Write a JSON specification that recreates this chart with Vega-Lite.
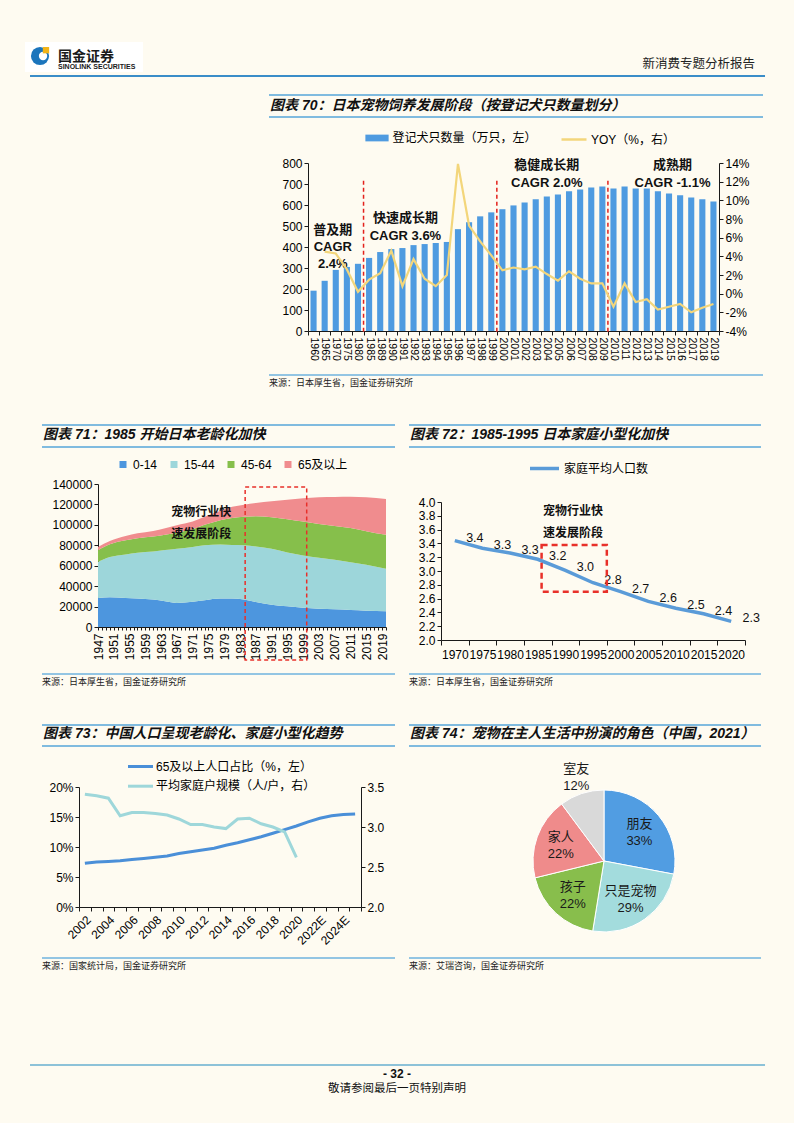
{
"$schema": "https://vega.github.io/schema/vega-lite/v6.json",
"background": "#FEFBF1",
"padding": {"left": -6, "top": 0, "right": 0, "bottom": 0},
"bounds": "flush",
"spacing": 0,
"resolve": {"scale": {"color": "independent", "fill": "independent", "stroke": "independent", "theta": "independent"}, "legend": {"color": "independent", "fill": "independent", "stroke": "independent"}},
"config": {
  "view": {"stroke": null},
  "concat": {"spacing": 0},
  "axis": {"grid": false, "labelFont": "Liberation Sans, Noto Sans CJK SC", "labelFontSize": 12, "labelColor": "#000000", "domainColor": "#1a1a1a", "tickColor": "#1a1a1a", "domainWidth": 1, "tickWidth": 1},
  "legend": {"labelFont": "Liberation Sans, Noto Sans CJK SC", "labelFontSize": 12, "labelColor": "#000000", "padding": 0},
  "text": {"font": "Liberation Sans, Noto Sans CJK SC"}
},
"vconcat": [
  {"width": 794, "height": 76, "data": {"values": [{}]}, "layer": [
    {"mark": {"type": "rect", "color": "#FFFFFF"}, "encoding": {"x": {"datum": 0.0315, "type": "quantitative", "scale": {"domain": [0, 1]}, "axis": null}, "x2": {"datum": 0.1801}, "y": {"datum": 0.447, "type": "quantitative", "scale": {"domain": [0, 1]}, "axis": null}, "y2": {"datum": 0.053}}},
    {"mark": {"type": "point", "filled": true, "color": "#1B75BC", "opacity": 1, "size": 330}, "encoding": {"x": {"datum": 0.0504, "type": "quantitative", "scale": {"domain": [0, 1]}, "axis": null}, "y": {"datum": 0.263, "type": "quantitative", "scale": {"domain": [0, 1]}, "axis": null}}},
    {"mark": {"type": "point", "filled": true, "color": "#FFFFFF", "opacity": 1, "size": 70}, "encoding": {"x": {"datum": 0.0542, "type": "quantitative", "scale": {"domain": [0, 1]}, "axis": null}, "y": {"datum": 0.263, "type": "quantitative", "scale": {"domain": [0, 1]}, "axis": null}}},
    {"mark": {"type": "square", "color": "#F2B418", "opacity": 1, "size": 40}, "encoding": {"x": {"datum": 0.0579, "type": "quantitative", "scale": {"domain": [0, 1]}, "axis": null}, "y": {"datum": 0.34, "type": "quantitative", "scale": {"domain": [0, 1]}, "axis": null}}},
    {"mark": {"type": "text", "align": "left", "baseline": "middle", "fontSize": 14, "fontWeight": "bold", "font": "Noto Sans CJK SC", "color": "#1a1a1a"}, "encoding": {"x": {"datum": 0.073, "type": "quantitative", "scale": {"domain": [0, 1]}, "axis": null}, "y": {"datum": 0.254, "type": "quantitative", "scale": {"domain": [0, 1]}, "axis": null}, "text": {"value": "国金证券"}}},
    {"mark": {"type": "text", "align": "left", "baseline": "middle", "fontSize": 7, "fontWeight": "bold", "font": "Liberation Sans", "color": "#1a1a1a"}, "encoding": {"x": {"datum": 0.073, "type": "quantitative", "scale": {"domain": [0, 1]}, "axis": null}, "y": {"datum": 0.114, "type": "quantitative", "scale": {"domain": [0, 1]}, "axis": null}, "text": {"value": "SINOLINK SECURITIES"}}},
    {"mark": {"type": "text", "align": "right", "baseline": "middle", "fontSize": 12.5, "font": "Noto Sans CJK SC", "color": "#222222"}, "encoding": {"x": {"datum": 0.9509, "type": "quantitative", "scale": {"domain": [0, 1]}, "axis": null}, "y": {"datum": 0.158, "type": "quantitative", "scale": {"domain": [0, 1]}, "axis": null}, "text": {"value": "新消费专题分析报告"}}},
    {"mark": {"type": "rule", "color": "#3A8DC8", "strokeWidth": 2}, "encoding": {"x": {"datum": 0.0378, "type": "quantitative", "scale": {"domain": [0, 1]}, "axis": null}, "x2": {"datum": 0.9635}, "y": {"datum": 0, "type": "quantitative", "scale": {"domain": [0, 1]}, "axis": null}}}
  ]},
  {"width": 1, "height": 19, "data": {"values": []}, "mark": "point"},
  {"width": 794, "height": 22, "data": {"values": [{}]}, "layer": [
    {"mark": {"type": "rule", "color": "#56A6D9", "strokeWidth": 1.5}, "encoding": {"x": {"datum": 0.3388, "type": "quantitative", "scale": {"domain": [0, 1]}, "axis": null}, "x2": {"datum": 0.961}, "y": {"datum": 1, "type": "quantitative", "scale": {"domain": [0, 1]}, "axis": null}}},
    {"mark": {"type": "rule", "color": "#56A6D9", "strokeWidth": 1.5}, "encoding": {"x": {"datum": 0.3388, "type": "quantitative", "scale": {"domain": [0, 1]}, "axis": null}, "x2": {"datum": 0.961}, "y": {"datum": 0, "type": "quantitative", "scale": {"domain": [0, 1]}, "axis": null}}},
    {"mark": {"type": "text", "align": "left", "baseline": "middle", "dx": 1, "fontSize": 14, "fontWeight": "bold", "fontStyle": "italic", "color": "#111111"}, "encoding": {"x": {"datum": 0.3388, "type": "quantitative", "scale": {"domain": [0, 1]}, "axis": null}, "y": {"datum": 0.5, "type": "quantitative", "scale": {"domain": [0, 1]}, "axis": null}, "text": {"value": "图表 70：日本宠物饲养发展阶段（按登记犬只数量划分）"}}}
  ]},
  {"width": 1, "height": 46, "data": {"values": []}, "mark": "point"},
  {"width": 794, "height": 168,
   "data": {"values": [
    {"year": "1960", "dogs": 192, "yoy": null},
    {"year": "1965", "dogs": 239, "yoy": 4.5},
    {"year": "1970", "dogs": 291, "yoy": 4.3},
    {"year": "1975", "dogs": 305, "yoy": 2.6},
    {"year": "1980", "dogs": 320, "yoy": 0.2},
    {"year": "1985", "dogs": 348, "yoy": 1.5},
    {"year": "1989", "dogs": 376, "yoy": 2.2},
    {"year": "1990", "dogs": 390, "yoy": 4.6},
    {"year": "1991", "dogs": 395, "yoy": 0.8},
    {"year": "1992", "dogs": 409, "yoy": 3.7},
    {"year": "1993", "dogs": 414, "yoy": 1.6},
    {"year": "1994", "dogs": 419, "yoy": 0.8},
    {"year": "1995", "dogs": 424, "yoy": 2.0},
    {"year": "1996", "dogs": 485, "yoy": 13.9},
    {"year": "1997", "dogs": 518, "yoy": 7.3},
    {"year": "1998", "dogs": 546, "yoy": 5.6},
    {"year": "1999", "dogs": 565, "yoy": 4.1},
    {"year": "2000", "dogs": 580, "yoy": 2.5},
    {"year": "2001", "dogs": 598, "yoy": 2.8},
    {"year": "2002", "dogs": 612, "yoy": 2.6},
    {"year": "2003", "dogs": 627, "yoy": 2.9},
    {"year": "2004", "dogs": 641, "yoy": 2.1},
    {"year": "2005", "dogs": 650, "yoy": 1.4},
    {"year": "2006", "dogs": 665, "yoy": 2.4},
    {"year": "2007", "dogs": 674, "yoy": 1.6},
    {"year": "2008", "dogs": 683, "yoy": 1.1},
    {"year": "2009", "dogs": 688, "yoy": 1.1},
    {"year": "2010", "dogs": 679, "yoy": -1.4},
    {"year": "2011", "dogs": 688, "yoy": 1.1},
    {"year": "2012", "dogs": 679, "yoy": -0.9},
    {"year": "2013", "dogs": 679, "yoy": -0.6},
    {"year": "2014", "dogs": 665, "yoy": -1.7},
    {"year": "2015", "dogs": 655, "yoy": -1.4},
    {"year": "2016", "dogs": 646, "yoy": -1.1},
    {"year": "2017", "dogs": 636, "yoy": -2.0},
    {"year": "2018", "dogs": 627, "yoy": -1.5},
    {"year": "2019", "dogs": 617, "yoy": -1.1}
   ]},
   "encoding": {"x": {"field": "year", "type": "ordinal", "scale": {"paddingInner": 0, "paddingOuter": 0, "range": [308, 719]}, "axis": {"labelAngle": 90, "labelFontSize": 10.5, "tickBand": "extent", "tickSize": 4, "title": null, "labelPadding": 2, "labelOverlap": false}}},
   "layer": [
    {"layer": [
      {"mark": {"type": "bar", "width": {"band": 0.55}}, "encoding": {
        "y": {"field": "dogs", "type": "quantitative", "scale": {"domain": [0, 800], "nice": false}, "axis": {"values": [0, 100, 200, 300, 400, 500, 600, 700, 800], "title": null, "tickSize": 4, "offset": -308}},
        "fill": {"datum": "登记犬只数量（万只，左）", "type": "nominal", "scale": {"range": ["#4F9BE0"]}, "legend": {"title": null, "orient": "none", "legendX": 369.5, "legendY": -32.5, "symbolType": "M-1.55,-0.45H1.55V0.45H-1.55Z", "symbolSize": 225, "symbolStrokeWidth": 0, "labelOffset": 8, "labelFontSize": 12}}}},
      {"data": {"values": [{"year": "1985"}, {"year": "2000"}, {"year": "2010"}]}, "mark": {"type": "rule", "color": "#E3211C", "strokeDash": [4, 3], "strokeWidth": 1.5}, "encoding": {
        "x": {"field": "year", "type": "ordinal", "bandPosition": 0, "scale": {"paddingInner": 0, "paddingOuter": 0, "range": [308, 719]}, "axis": {"labelAngle": 90, "labelFontSize": 10.5, "tickBand": "extent", "tickSize": 4, "title": null, "labelPadding": 2, "labelOverlap": false}},
        "y": {"datum": 716, "type": "quantitative", "scale": {"domain": [0, 800], "nice": false}, "axis": {"values": [0, 100, 200, 300, 400, 500, 600, 700, 800], "title": null, "tickSize": 4, "offset": -308}}, "y2": {"datum": -16}}},
      {"data": {"values": [{"year": "1970"}]}, "mark": {"type": "text", "fontSize": 13, "fontWeight": "bold", "color": "#111111", "lineBreak": "\n", "lineHeight": 17, "dx": -3, "baseline": "middle"}, "encoding": {"y": {"datum": 481, "type": "quantitative", "scale": {"domain": [0, 800], "nice": false}, "axis": {"values": [0, 100, 200, 300, 400, 500, 600, 700, 800], "title": null, "tickSize": 4, "offset": -308}}, "text": {"value": "普及期\nCAGR\n2.4%"}}},
      {"data": {"values": [{"year": "1991"}]}, "mark": {"type": "text", "fontSize": 13, "fontWeight": "bold", "color": "#111111", "lineBreak": "\n", "lineHeight": 18, "dx": 3, "baseline": "middle"}, "encoding": {"y": {"datum": 539, "type": "quantitative", "scale": {"domain": [0, 800], "nice": false}, "axis": {"values": [0, 100, 200, 300, 400, 500, 600, 700, 800], "title": null, "tickSize": 4, "offset": -308}}, "text": {"value": "快速成长期\nCAGR  3.6%"}}},
      {"data": {"values": [{"year": "2004"}]}, "mark": {"type": "text", "fontSize": 13, "fontWeight": "bold", "color": "#111111", "lineBreak": "\n", "lineHeight": 18, "baseline": "middle"}, "encoding": {"y": {"datum": 790, "type": "quantitative", "scale": {"domain": [0, 800], "nice": false}, "axis": {"values": [0, 100, 200, 300, 400, 500, 600, 700, 800], "title": null, "tickSize": 4, "offset": -308}}, "text": {"value": "稳健成长期\nCAGR  2.0%"}}},
      {"data": {"values": [{"year": "2015"}]}, "mark": {"type": "text", "fontSize": 13, "fontWeight": "bold", "color": "#111111", "lineBreak": "\n", "lineHeight": 18, "dx": 3.5, "baseline": "middle"}, "encoding": {"y": {"datum": 790, "type": "quantitative", "scale": {"domain": [0, 800], "nice": false}, "axis": {"values": [0, 100, 200, 300, 400, 500, 600, 700, 800], "title": null, "tickSize": 4, "offset": -308}}, "text": {"value": "成熟期\nCAGR  -1.1%"}}}
    ]},
    {"mark": {"type": "line", "strokeWidth": 2.2}, "encoding": {
      "y": {"field": "yoy", "type": "quantitative", "scale": {"domain": [-4, 14], "nice": false, "zero": false}, "axis": {"orient": "right", "offset": -75, "values": [-4, -2, 0, 2, 4, 6, 8, 10, 12, 14], "labelExpr": "datum.value + '%'", "title": null, "tickSize": 4}},
      "stroke": {"datum": "YOY（%，右）", "type": "nominal", "scale": {"range": ["#F3D67B"]}, "legend": {"title": null, "orient": "none", "legendX": 560, "legendY": -37.5, "symbolType": "stroke", "symbolSize": 625, "symbolStrokeWidth": 2.5, "labelOffset": 3, "labelFontSize": 12}}}}
   ],
   "resolve": {"scale": {"y": "independent"}}
  },
  {"width": 1, "height": 44, "data": {"values": []}, "mark": "point"},
  {"width": 794, "height": 15, "data": {"values": [{}]}, "layer": [
    {"mark": {"type": "rule", "color": "#6FB3DE", "strokeWidth": 1.5}, "encoding": {"x": {"datum": 0.3388, "type": "quantitative", "scale": {"domain": [0, 1]}, "axis": null}, "x2": {"datum": 0.961}, "y": {"datum": 1, "type": "quantitative", "scale": {"domain": [0, 1]}, "axis": null}}},
    {"mark": {"type": "text", "align": "left", "baseline": "middle", "fontSize": 9, "font": "Noto Sans CJK SC", "color": "#222222"}, "encoding": {"x": {"datum": 0.3388, "type": "quantitative", "scale": {"domain": [0, 1]}, "axis": null}, "y": {"datum": 0.45, "type": "quantitative", "scale": {"domain": [0, 1]}, "axis": null}, "text": {"value": "来源：日本厚生省，国金证券研究所"}}}
  ]},
  {"width": 1, "height": 35, "data": {"values": []}, "mark": "point"},
  {"width": 794, "height": 22, "data": {"values": [{}]}, "layer": [
    {"mark": {"type": "rule", "color": "#56A6D9", "strokeWidth": 1.5}, "encoding": {"x": {"datum": 0.0529, "type": "quantitative", "scale": {"domain": [0, 1]}, "axis": null}, "x2": {"datum": 0.4975}, "y": {"datum": 1, "type": "quantitative", "scale": {"domain": [0, 1]}, "axis": null}}},
    {"mark": {"type": "rule", "color": "#56A6D9", "strokeWidth": 1.5}, "encoding": {"x": {"datum": 0.0529, "type": "quantitative", "scale": {"domain": [0, 1]}, "axis": null}, "x2": {"datum": 0.4975}, "y": {"datum": 0, "type": "quantitative", "scale": {"domain": [0, 1]}, "axis": null}}},
    {"mark": {"type": "rule", "color": "#56A6D9", "strokeWidth": 1.5}, "encoding": {"x": {"datum": 0.5151, "type": "quantitative", "scale": {"domain": [0, 1]}, "axis": null}, "x2": {"datum": 0.9584}, "y": {"datum": 1, "type": "quantitative", "scale": {"domain": [0, 1]}, "axis": null}}},
    {"mark": {"type": "rule", "color": "#56A6D9", "strokeWidth": 1.5}, "encoding": {"x": {"datum": 0.5151, "type": "quantitative", "scale": {"domain": [0, 1]}, "axis": null}, "x2": {"datum": 0.9584}, "y": {"datum": 0, "type": "quantitative", "scale": {"domain": [0, 1]}, "axis": null}}},
    {"mark": {"type": "text", "align": "left", "baseline": "middle", "dx": 1, "fontSize": 14, "fontWeight": "bold", "fontStyle": "italic", "color": "#111111"}, "encoding": {"x": {"datum": 0.0529, "type": "quantitative", "scale": {"domain": [0, 1]}, "axis": null}, "y": {"datum": 0.56, "type": "quantitative", "scale": {"domain": [0, 1]}, "axis": null}, "text": {"value": "图表 71：1985 开始日本老龄化加快"}}},
    {"mark": {"type": "text", "align": "left", "baseline": "middle", "dx": 1, "fontSize": 14, "fontWeight": "bold", "fontStyle": "italic", "color": "#111111"}, "encoding": {"x": {"datum": 0.5151, "type": "quantitative", "scale": {"domain": [0, 1]}, "axis": null}, "y": {"datum": 0.56, "type": "quantitative", "scale": {"domain": [0, 1]}, "axis": null}, "text": {"value": "图表 72：1985-1995 日本家庭小型化加快"}}}
  ]},
  {"width": 1, "height": 37, "data": {"values": []}, "mark": "point"},
  {"width": 794, "height": 156,
   "layer": [
    {"layer": [
      {"data": {"values": [
        {"year": 1947, "group": "0-14", "pop": 28500}, {"year": 1947, "group": "15-44", "pop": 35100}, {"year": 1947, "group": "45-64", "pop": 11500}, {"year": 1947, "group": "65及以上", "pop": 3300},
        {"year": 1950, "group": "0-14", "pop": 29200}, {"year": 1950, "group": "15-44", "pop": 39300}, {"year": 1950, "group": "45-64", "pop": 12500}, {"year": 1950, "group": "65及以上", "pop": 3300},
        {"year": 1954, "group": "0-14", "pop": 28500}, {"year": 1954, "group": "15-44", "pop": 42600}, {"year": 1954, "group": "45-64", "pop": 13800}, {"year": 1954, "group": "65及以上", "pop": 4300},
        {"year": 1957, "group": "0-14", "pop": 27900}, {"year": 1957, "group": "15-44", "pop": 44900}, {"year": 1957, "group": "45-64", "pop": 14100}, {"year": 1957, "group": "65及以上", "pop": 4900},
        {"year": 1961, "group": "0-14", "pop": 26900}, {"year": 1961, "group": "15-44", "pop": 46900}, {"year": 1961, "group": "45-64", "pop": 14700}, {"year": 1961, "group": "65及以上", "pop": 5600},
        {"year": 1964, "group": "0-14", "pop": 25200}, {"year": 1964, "group": "15-44", "pop": 50200}, {"year": 1964, "group": "45-64", "pop": 14800}, {"year": 1964, "group": "65及以上", "pop": 6500},
        {"year": 1967, "group": "0-14", "pop": 23600}, {"year": 1967, "group": "15-44", "pop": 53100}, {"year": 1967, "group": "45-64", "pop": 15800}, {"year": 1967, "group": "65及以上", "pop": 7200},
        {"year": 1971, "group": "0-14", "pop": 24600}, {"year": 1971, "group": "15-44", "pop": 53800}, {"year": 1971, "group": "45-64", "pop": 17300}, {"year": 1971, "group": "65及以上", "pop": 7600},
        {"year": 1974, "group": "0-14", "pop": 26200}, {"year": 1974, "group": "15-44", "pop": 53800}, {"year": 1974, "group": "45-64", "pop": 20000}, {"year": 1974, "group": "65及以上", "pop": 7900},
        {"year": 1978, "group": "0-14", "pop": 27900}, {"year": 1978, "group": "15-44", "pop": 52800}, {"year": 1978, "group": "45-64", "pop": 23900}, {"year": 1978, "group": "65及以上", "pop": 9200},
        {"year": 1981, "group": "0-14", "pop": 27900}, {"year": 1981, "group": "15-44", "pop": 52400}, {"year": 1981, "group": "45-64", "pop": 26300}, {"year": 1981, "group": "65及以上", "pop": 11100},
        {"year": 1984, "group": "0-14", "pop": 26900}, {"year": 1984, "group": "15-44", "pop": 53100}, {"year": 1984, "group": "45-64", "pop": 27900}, {"year": 1984, "group": "65及以上", "pop": 11800},
        {"year": 1987, "group": "0-14", "pop": 24400}, {"year": 1987, "group": "15-44", "pop": 54400}, {"year": 1987, "group": "45-64", "pop": 29600}, {"year": 1987, "group": "65及以上", "pop": 13000},
        {"year": 1991, "group": "0-14", "pop": 21800}, {"year": 1991, "group": "15-44", "pop": 54700}, {"year": 1991, "group": "45-64", "pop": 30900}, {"year": 1991, "group": "65及以上", "pop": 15700},
        {"year": 1995, "group": "0-14", "pop": 20200}, {"year": 1995, "group": "15-44", "pop": 52700}, {"year": 1995, "group": "45-64", "pop": 32600}, {"year": 1995, "group": "65及以上", "pop": 19200},
        {"year": 1999, "group": "0-14", "pop": 18900}, {"year": 1999, "group": "15-44", "pop": 51100}, {"year": 1999, "group": "45-64", "pop": 33200}, {"year": 1999, "group": "65及以上", "pop": 22800},
        {"year": 2003, "group": "0-14", "pop": 17900}, {"year": 2003, "group": "15-44", "pop": 49800}, {"year": 2003, "group": "45-64", "pop": 33200}, {"year": 2003, "group": "65及以上", "pop": 26100},
        {"year": 2007, "group": "0-14", "pop": 17300}, {"year": 2007, "group": "15-44", "pop": 48500}, {"year": 2007, "group": "45-64", "pop": 33200}, {"year": 2007, "group": "65及以上", "pop": 28300},
        {"year": 2011, "group": "0-14", "pop": 16600}, {"year": 2011, "group": "15-44", "pop": 46900}, {"year": 2011, "group": "45-64", "pop": 33500}, {"year": 2011, "group": "65及以上", "pop": 30600},
        {"year": 2015, "group": "0-14", "pop": 16000}, {"year": 2015, "group": "15-44", "pop": 44900}, {"year": 2015, "group": "45-64", "pop": 32900}, {"year": 2015, "group": "65及以上", "pop": 33200},
        {"year": 2020, "group": "0-14", "pop": 15300}, {"year": 2020, "group": "15-44", "pop": 41700}, {"year": 2020, "group": "45-64", "pop": 33200}, {"year": 2020, "group": "65及以上", "pop": 35200}
       ]},
       "mark": {"type": "area", "interpolate": "monotone", "opacity": 1},
       "encoding": {
        "x": {"field": "year", "type": "quantitative", "scale": {"domain": [1947, 2020], "nice": false, "zero": false, "range": [98, 386]}, "axis": {"orient": "bottom", "offset": -13, "values": [1947,1948,1949,1950,1951,1952,1953,1954,1955,1956,1957,1958,1959,1960,1961,1962,1963,1964,1965,1966,1967,1968,1969,1970,1971,1972,1973,1974,1975,1976,1977,1978,1979,1980,1981,1982,1983,1984,1985,1986,1987,1988,1989,1990,1991,1992,1993,1994,1995,1996,1997,1998,1999,2000,2001,2002,2003,2004,2005,2006,2007,2008,2009,2010,2011,2012,2013,2014,2015,2016,2017,2018,2019,2020], "labelExpr": "(datum.value - 1947) % 4 === 0 ? '' + datum.value : ''", "labelAngle": -90, "tickSize": 3, "labelOverlap": false, "labelPadding": 3, "title": null}},
        "y": {"field": "pop", "type": "quantitative", "stack": "zero", "scale": {"domain": [0, 140000], "nice": false, "range": [143, 0]}, "axis": {"orient": "left", "offset": -98, "values": [0, 20000, 40000, 60000, 80000, 100000, 120000, 140000], "format": "d", "tickSize": 4, "title": null}},
        "color": {"field": "group", "type": "nominal", "scale": {"domain": ["0-14", "15-44", "45-64", "65及以上"], "range": ["#4D96DE", "#9DD6DA", "#86BF4B", "#F08C8E"]}, "legend": {"title": null, "orient": "none", "direction": "horizontal", "legendX": 117, "legendY": -25.5, "symbolType": "square", "symbolSize": 49, "symbolStrokeWidth": 0, "columnPadding": 10, "labelOffset": 4}},
        "order": {"field": "group", "sort": "ascending"}
       }},
      {"data": {"values": [{}]}, "mark": {"type": "rect", "filled": false, "stroke": "#E8302A", "strokeDash": [4, 3], "strokeWidth": 1.5}, "encoding": {
        "x": {"datum": 1984.3, "type": "quantitative", "scale": {"domain": [1947, 2020], "nice": false, "zero": false, "range": [98, 386]}, "axis": {"orient": "bottom", "offset": -13, "values": [1947,1948,1949,1950,1951,1952,1953,1954,1955,1956,1957,1958,1959,1960,1961,1962,1963,1964,1965,1966,1967,1968,1969,1970,1971,1972,1973,1974,1975,1976,1977,1978,1979,1980,1981,1982,1983,1984,1985,1986,1987,1988,1989,1990,1991,1992,1993,1994,1995,1996,1997,1998,1999,2000,2001,2002,2003,2004,2005,2006,2007,2008,2009,2010,2011,2012,2013,2014,2015,2016,2017,2018,2019,2020], "labelExpr": "(datum.value - 1947) % 4 === 0 ? '' + datum.value : ''", "labelAngle": -90, "tickSize": 3, "labelOverlap": false, "labelPadding": 3, "title": null}}, "x2": {"datum": 1999.9},
        "y": {"datum": 137000, "type": "quantitative", "scale": {"domain": [0, 140000], "nice": false, "range": [143, 0]}, "axis": {"orient": "left", "offset": -98, "values": [0, 20000, 40000, 60000, 80000, 100000, 120000, 140000], "format": "d", "tickSize": 4, "title": null}}, "y2": {"datum": -32300}}},
      {"data": {"values": [{}]}, "mark": {"type": "text", "fontSize": 12, "fontWeight": "bold", "color": "#111111", "lineBreak": "\n", "lineHeight": 22, "baseline": "middle"}, "encoding": {
        "x": {"datum": 1973.2, "type": "quantitative", "scale": {"domain": [1947, 2020], "nice": false, "zero": false, "range": [98, 386]}, "axis": {"orient": "bottom", "offset": -13, "values": [1947,1948,1949,1950,1951,1952,1953,1954,1955,1956,1957,1958,1959,1960,1961,1962,1963,1964,1965,1966,1967,1968,1969,1970,1971,1972,1973,1974,1975,1976,1977,1978,1979,1980,1981,1982,1983,1984,1985,1986,1987,1988,1989,1990,1991,1992,1993,1994,1995,1996,1997,1998,1999,2000,2001,2002,2003,2004,2005,2006,2007,2008,2009,2010,2011,2012,2013,2014,2015,2016,2017,2018,2019,2020], "labelExpr": "(datum.value - 1947) % 4 === 0 ? '' + datum.value : ''", "labelAngle": -90, "tickSize": 3, "labelOverlap": false, "labelPadding": 3, "title": null}},
        "y": {"datum": 112900, "type": "quantitative", "scale": {"domain": [0, 140000], "nice": false, "range": [143, 0]}, "axis": {"orient": "left", "offset": -98, "values": [0, 20000, 40000, 60000, 80000, 100000, 120000, 140000], "format": "d", "tickSize": 4, "title": null}}, "text": {"value": "宠物行业快\n速发展阶段"}}}
    ]},
    {"layer": [
      {"data": {"values": [
        {"year": "1970", "hh": 3.44}, {"year": "1975", "hh": 3.33}, {"year": "1980", "hh": 3.26}, {"year": "1985", "hh": 3.17}, {"year": "1990", "hh": 3.01}, {"year": "1995", "hh": 2.83}, {"year": "2000", "hh": 2.7}, {"year": "2005", "hh": 2.56}, {"year": "2010", "hh": 2.46}, {"year": "2015", "hh": 2.38}, {"year": "2020", "hh": 2.27}
       ]},
       "encoding": {
        "x": {"field": "year", "type": "ordinal", "scale": {"type": "band", "paddingInner": 0, "paddingOuter": 0, "range": [441, 745]}, "axis": {"orient": "bottom", "labelAngle": 0, "labelFontSize": 12, "tickBand": "extent", "tickSize": 5, "labelOverlap": false, "labelPadding": 4, "title": null}},
        "y": {"field": "hh", "type": "quantitative", "scale": {"domain": [2, 4], "nice": false, "zero": false, "range": [156, 18]}, "axis": {"orient": "left", "offset": -441, "values": [2, 2.2, 2.4, 2.6, 2.8, 3, 3.2, 3.4, 3.6, 3.8, 4], "format": ".1f", "tickSize": 4, "title": null}}
       },
       "layer": [
        {"mark": {"type": "line", "strokeWidth": 3.5}, "encoding": {"stroke": {"datum": "家庭平均人口数", "type": "nominal", "scale": {"range": ["#5A9BD8"]}, "legend": {"title": null, "orient": "none", "legendX": 528, "legendY": -32, "symbolType": "stroke", "symbolSize": 841, "symbolStrokeWidth": 3.5, "labelOffset": 3}}}},
        {"mark": {"type": "text", "dx": 20, "dy": -3, "fontSize": 12.5, "color": "#111111"}, "encoding": {"text": {"field": "hh", "type": "quantitative", "format": ".1f"}}}
       ]},
      {"data": {"values": [{}]},
       "layer": [
        {"mark": {"type": "rect", "filled": false, "stroke": "#E8302A", "strokeDash": [6, 4], "strokeWidth": 2.5}, "encoding": {
          "x": {"datum": 1985.7, "type": "quantitative", "scale": {"domain": [1967.5, 2022.5], "nice": false, "zero": false, "range": [441, 745]}, "axis": null}, "x2": {"datum": 1997.5},
          "y": {"datum": 3.377, "type": "quantitative", "scale": {"domain": [2, 4], "nice": false, "zero": false, "range": [156, 18]}, "axis": {"orient": "left", "offset": -441, "values": [2, 2.2, 2.4, 2.6, 2.8, 3, 3.2, 3.4, 3.6, 3.8, 4], "format": ".1f", "tickSize": 4, "title": null}}, "y2": {"datum": 2.7}}},
        {"mark": {"type": "text", "fontSize": 12, "fontWeight": "bold", "color": "#111111", "lineBreak": "\n", "lineHeight": 22, "baseline": "middle"}, "encoding": {
          "x": {"datum": 1991.4, "type": "quantitative", "scale": {"domain": [1967.5, 2022.5], "nice": false, "zero": false, "range": [441, 745]}, "axis": null},
          "y": {"datum": 3.874, "type": "quantitative", "scale": {"domain": [2, 4], "nice": false, "zero": false, "range": [156, 18]}, "axis": {"orient": "left", "offset": -441, "values": [2, 2.2, 2.4, 2.6, 2.8, 3, 3.2, 3.4, 3.6, 3.8, 4], "format": ".1f", "tickSize": 4, "title": null}}, "text": {"value": "宠物行业快\n速发展阶段"}}}
       ]}
     ],
     "resolve": {"scale": {"x": "independent"}}
    }
   ],
   "resolve": {"scale": {"x": "independent", "y": "independent"}}
  },
  {"width": 1, "height": 34, "data": {"values": []}, "mark": "point"},
  {"width": 794, "height": 15, "data": {"values": [{}]}, "layer": [
    {"mark": {"type": "rule", "color": "#6FB3DE", "strokeWidth": 1.5}, "encoding": {"x": {"datum": 0.0529, "type": "quantitative", "scale": {"domain": [0, 1]}, "axis": null}, "x2": {"datum": 0.4975}, "y": {"datum": 1, "type": "quantitative", "scale": {"domain": [0, 1]}, "axis": null}}},
    {"mark": {"type": "rule", "color": "#6FB3DE", "strokeWidth": 1.5}, "encoding": {"x": {"datum": 0.5151, "type": "quantitative", "scale": {"domain": [0, 1]}, "axis": null}, "x2": {"datum": 0.9584}, "y": {"datum": 1, "type": "quantitative", "scale": {"domain": [0, 1]}, "axis": null}}},
    {"mark": {"type": "text", "align": "left", "baseline": "middle", "fontSize": 9, "font": "Noto Sans CJK SC", "color": "#222222"}, "encoding": {"x": {"datum": 0.0529, "type": "quantitative", "scale": {"domain": [0, 1]}, "axis": null}, "y": {"datum": 0.45, "type": "quantitative", "scale": {"domain": [0, 1]}, "axis": null}, "text": {"value": "来源：日本厚生省，国金证券研究所"}}},
    {"mark": {"type": "text", "align": "left", "baseline": "middle", "fontSize": 9, "font": "Noto Sans CJK SC", "color": "#222222"}, "encoding": {"x": {"datum": 0.5151, "type": "quantitative", "scale": {"domain": [0, 1]}, "axis": null}, "y": {"datum": 0.45, "type": "quantitative", "scale": {"domain": [0, 1]}, "axis": null}, "text": {"value": "来源：日本厚生省，国金证券研究所"}}}
  ]},
  {"width": 1, "height": 36, "data": {"values": []}, "mark": "point"},
  {"width": 794, "height": 21, "data": {"values": [{}]}, "layer": [
    {"mark": {"type": "rule", "color": "#56A6D9", "strokeWidth": 1.5}, "encoding": {"x": {"datum": 0.0529, "type": "quantitative", "scale": {"domain": [0, 1]}, "axis": null}, "x2": {"datum": 0.4975}, "y": {"datum": 1, "type": "quantitative", "scale": {"domain": [0, 1]}, "axis": null}}},
    {"mark": {"type": "rule", "color": "#56A6D9", "strokeWidth": 1.5}, "encoding": {"x": {"datum": 0.0529, "type": "quantitative", "scale": {"domain": [0, 1]}, "axis": null}, "x2": {"datum": 0.4975}, "y": {"datum": 0, "type": "quantitative", "scale": {"domain": [0, 1]}, "axis": null}}},
    {"mark": {"type": "rule", "color": "#56A6D9", "strokeWidth": 1.5}, "encoding": {"x": {"datum": 0.5151, "type": "quantitative", "scale": {"domain": [0, 1]}, "axis": null}, "x2": {"datum": 0.9584}, "y": {"datum": 1, "type": "quantitative", "scale": {"domain": [0, 1]}, "axis": null}}},
    {"mark": {"type": "rule", "color": "#56A6D9", "strokeWidth": 1.5}, "encoding": {"x": {"datum": 0.5151, "type": "quantitative", "scale": {"domain": [0, 1]}, "axis": null}, "x2": {"datum": 0.9584}, "y": {"datum": 0, "type": "quantitative", "scale": {"domain": [0, 1]}, "axis": null}}},
    {"mark": {"type": "text", "align": "left", "baseline": "middle", "dx": 1, "fontSize": 14, "fontWeight": "bold", "fontStyle": "italic", "color": "#111111"}, "encoding": {"x": {"datum": 0.0529, "type": "quantitative", "scale": {"domain": [0, 1]}, "axis": null}, "y": {"datum": 0.55, "type": "quantitative", "scale": {"domain": [0, 1]}, "axis": null}, "text": {"value": "图表 73：中国人口呈现老龄化、家庭小型化趋势"}}},
    {"mark": {"type": "text", "align": "left", "baseline": "middle", "dx": 1, "fontSize": 14, "fontWeight": "bold", "fontStyle": "italic", "color": "#111111"}, "encoding": {"x": {"datum": 0.5151, "type": "quantitative", "scale": {"domain": [0, 1]}, "axis": null}, "y": {"datum": 0.55, "type": "quantitative", "scale": {"domain": [0, 1]}, "axis": null}, "text": {"value": "图表 74：宠物在主人生活中扮演的角色（中国，2021）"}}}
  ]},
  {"width": 1, "height": 41, "data": {"values": []}, "mark": "point"},
  {"width": 794, "height": 148,
   "layer": [
    {"data": {"values": [
      {"year": "2002", "old": 0.073, "hh": 3.41}, {"year": "2003", "old": 0.075, "hh": 3.39}, {"year": "2004", "old": 0.076, "hh": 3.36}, {"year": "2005", "old": 0.077, "hh": 3.14},
      {"year": "2006", "old": 0.079, "hh": 3.18}, {"year": "2007", "old": 0.081, "hh": 3.18}, {"year": "2008", "old": 0.083, "hh": 3.17}, {"year": "2009", "old": 0.085, "hh": 3.15},
      {"year": "2010", "old": 0.089, "hh": 3.10}, {"year": "2011", "old": 0.092, "hh": 3.03}, {"year": "2012", "old": 0.095, "hh": 3.03}, {"year": "2013", "old": 0.098, "hh": 3.00},
      {"year": "2014", "old": 0.103, "hh": 2.98}, {"year": "2015", "old": 0.107, "hh": 3.10}, {"year": "2016", "old": 0.112, "hh": 3.11}, {"year": "2017", "old": 0.117, "hh": 3.04},
      {"year": "2018", "old": 0.123, "hh": 3.00}, {"year": "2019", "old": 0.129, "hh": 2.94}, {"year": "2020", "old": 0.135, "hh": 2.62}, {"year": "2021", "old": 0.142, "hh": null},
      {"year": "2022E", "old": 0.148, "hh": null}, {"year": "2023E", "old": 0.152, "hh": null}, {"year": "2024E", "old": 0.154, "hh": null}, {"year": "2025E", "old": 0.155, "hh": null}
     ]},
     "encoding": {"x": {"field": "year", "type": "ordinal", "scale": {"type": "band", "paddingInner": 0, "paddingOuter": 0, "range": [79, 361]}, "axis": {"orient": "bottom", "offset": -28, "labelAngle": -45, "labelFontSize": 12, "tickBand": "extent", "tickSize": 4, "labelOverlap": false, "labelPadding": 3, "title": null, "labelExpr": "indexof(['2002','2004','2006','2008','2010','2012','2014','2016','2018','2020','2022E','2024E'], datum.value) >= 0 ? datum.value : ''"}}},
     "layer": [
      {"mark": {"type": "line", "strokeWidth": 3}, "encoding": {
        "y": {"field": "old", "type": "quantitative", "scale": {"domain": [0, 0.2], "nice": false, "range": [120, 0]}, "axis": {"orient": "left", "offset": -79, "values": [0, 0.05, 0.1, 0.15, 0.2], "format": ".0%", "tickSize": 4, "title": null}},
        "stroke": {"datum": "65及以上人口占比（%，左）", "type": "nominal", "scale": {"domain": ["65及以上人口占比（%，左）", "平均家庭户规模（人/户，右）"], "range": ["#4A8FD8", "#9ED7DA"]}, "legend": {"title": null, "orient": "none", "direction": "vertical", "legendX": 129, "legendY": -32, "symbolType": "M-1.25,0H1.25", "symbolSize": 400, "symbolStrokeWidth": 3, "rowPadding": 1.7, "labelOffset": 4}}}},
      {"mark": {"type": "line", "strokeWidth": 3}, "encoding": {
        "y": {"field": "hh", "type": "quantitative", "scale": {"domain": [2, 3.5], "nice": false, "zero": false, "range": [120, 0]}, "axis": {"orient": "right", "offset": -433, "values": [2, 2.5, 3, 3.5], "format": ".1f", "tickSize": 4, "title": null}},
        "stroke": {"datum": "平均家庭户规模（人/户，右）", "type": "nominal"}}}
     ],
     "resolve": {"scale": {"y": "independent"}}
    },
    {"data": {"values": [
      {"role": "朋友", "share": 0.33}, {"role": "只是宠物", "share": 0.29}, {"role": "孩子", "share": 0.22}, {"role": "家人", "share": 0.22}, {"role": "室友", "share": 0.12}
     ]},
     "layer": [
      {"mark": {"type": "arc", "outerRadius": 71, "stroke": "#FFFFFF", "strokeWidth": 1}, "encoding": {
        "theta": {"field": "share", "type": "quantitative", "stack": true},
        "order": {"field": "share", "sort": "descending"},
        "x": {"datum": 0.7607, "type": "quantitative", "scale": {"domain": [0, 1]}, "axis": null},
        "y": {"datum": 0.5, "type": "quantitative", "scale": {"domain": [0, 1]}, "axis": null},
        "color": {"field": "role", "type": "nominal", "scale": {"domain": ["朋友", "只是宠物", "孩子", "家人", "室友"], "range": ["#519DE2", "#A3DCDD", "#88BE4C", "#EF8B8B", "#D9D9D9"]}, "legend": null}}},
      {"mark": {"type": "text", "radius": 46, "dy": -8, "fontSize": 13}, "encoding": {
        "theta": {"field": "share", "type": "quantitative", "stack": true},
        "order": {"field": "share", "sort": "descending"},
        "x": {"datum": 0.7607, "type": "quantitative", "scale": {"domain": [0, 1]}, "axis": null},
        "y": {"datum": 0.5, "type": "quantitative", "scale": {"domain": [0, 1]}, "axis": null},
        "detail": {"field": "role", "type": "nominal"}, "color": {"value": "#1a1a1a"},
        "text": {"condition": {"test": "datum.role === '室友'", "value": ""}, "field": "role", "type": "nominal"}}},
      {"mark": {"type": "text", "radius": 46, "dy": 9, "fontSize": 13}, "encoding": {
        "theta": {"field": "share", "type": "quantitative", "stack": true},
        "order": {"field": "share", "sort": "descending"},
        "x": {"datum": 0.7607, "type": "quantitative", "scale": {"domain": [0, 1]}, "axis": null},
        "y": {"datum": 0.5, "type": "quantitative", "scale": {"domain": [0, 1]}, "axis": null},
        "detail": {"field": "role", "type": "nominal"}, "color": {"value": "#1a1a1a"},
        "text": {"condition": {"test": "datum.role === '室友'", "value": ""}, "field": "share", "type": "quantitative", "format": ".0%"}}},
      {"mark": {"type": "text", "radius": 88, "dy": -8, "fontSize": 13}, "encoding": {
        "theta": {"field": "share", "type": "quantitative", "stack": true},
        "order": {"field": "share", "sort": "descending"},
        "x": {"datum": 0.7607, "type": "quantitative", "scale": {"domain": [0, 1]}, "axis": null},
        "y": {"datum": 0.5, "type": "quantitative", "scale": {"domain": [0, 1]}, "axis": null},
        "detail": {"field": "role", "type": "nominal"}, "color": {"value": "#1a1a1a"},
        "text": {"condition": {"test": "datum.role !== '室友'", "value": ""}, "field": "role", "type": "nominal"}}},
      {"mark": {"type": "text", "radius": 88, "dy": 9, "fontSize": 13}, "encoding": {
        "theta": {"field": "share", "type": "quantitative", "stack": true},
        "order": {"field": "share", "sort": "descending"},
        "x": {"datum": 0.7607, "type": "quantitative", "scale": {"domain": [0, 1]}, "axis": null},
        "y": {"datum": 0.5, "type": "quantitative", "scale": {"domain": [0, 1]}, "axis": null},
        "detail": {"field": "role", "type": "nominal"}, "color": {"value": "#1a1a1a"},
        "text": {"condition": {"test": "datum.role !== '室友'", "value": ""}, "field": "share", "type": "quantitative", "format": ".0%"}}}
     ]
    }
   ],
   "resolve": {"scale": {"x": "independent", "y": "independent"}}
  },
  {"width": 1, "height": 23, "data": {"values": []}, "mark": "point"},
  {"width": 794, "height": 15, "data": {"values": [{}]}, "layer": [
    {"mark": {"type": "rule", "color": "#6FB3DE", "strokeWidth": 1.5}, "encoding": {"x": {"datum": 0.0529, "type": "quantitative", "scale": {"domain": [0, 1]}, "axis": null}, "x2": {"datum": 0.4975}, "y": {"datum": 1, "type": "quantitative", "scale": {"domain": [0, 1]}, "axis": null}}},
    {"mark": {"type": "rule", "color": "#6FB3DE", "strokeWidth": 1.5}, "encoding": {"x": {"datum": 0.5151, "type": "quantitative", "scale": {"domain": [0, 1]}, "axis": null}, "x2": {"datum": 0.9584}, "y": {"datum": 1, "type": "quantitative", "scale": {"domain": [0, 1]}, "axis": null}}},
    {"mark": {"type": "text", "align": "left", "baseline": "middle", "fontSize": 9, "font": "Noto Sans CJK SC", "color": "#222222"}, "encoding": {"x": {"datum": 0.0529, "type": "quantitative", "scale": {"domain": [0, 1]}, "axis": null}, "y": {"datum": 0.45, "type": "quantitative", "scale": {"domain": [0, 1]}, "axis": null}, "text": {"value": "来源：国家统计局，国金证券研究所"}}},
    {"mark": {"type": "text", "align": "left", "baseline": "middle", "fontSize": 9, "font": "Noto Sans CJK SC", "color": "#222222"}, "encoding": {"x": {"datum": 0.5151, "type": "quantitative", "scale": {"domain": [0, 1]}, "axis": null}, "y": {"datum": 0.45, "type": "quantitative", "scale": {"domain": [0, 1]}, "axis": null}, "text": {"value": "来源：艾瑞咨询，国金证券研究所"}}}
  ]},
  {"width": 1, "height": 92, "data": {"values": []}, "mark": "point"},
  {"width": 794, "height": 58, "data": {"values": [{}]}, "layer": [
    {"mark": {"type": "rule", "color": "#8DC2D8", "strokeWidth": 2}, "encoding": {"x": {"datum": 0.0378, "type": "quantitative", "scale": {"domain": [0, 1]}, "axis": null}, "x2": {"datum": 0.9635}, "y": {"datum": 1, "type": "quantitative", "scale": {"domain": [0, 1]}, "axis": null}}},
    {"mark": {"type": "text", "align": "center", "baseline": "middle", "fontSize": 12, "fontWeight": "bold", "font": "Liberation Sans", "color": "#111111"}, "encoding": {"x": {"datum": 0.5, "type": "quantitative", "scale": {"domain": [0, 1]}, "axis": null}, "y": {"datum": 0.853, "type": "quantitative", "scale": {"domain": [0, 1]}, "axis": null}, "text": {"value": "- 32 -"}}},
    {"mark": {"type": "text", "align": "center", "baseline": "middle", "fontSize": 11.5, "font": "Noto Sans CJK SC", "color": "#111111"}, "encoding": {"x": {"datum": 0.5, "type": "quantitative", "scale": {"domain": [0, 1]}, "axis": null}, "y": {"datum": 0.586, "type": "quantitative", "scale": {"domain": [0, 1]}, "axis": null}, "text": {"value": "敬请参阅最后一页特别声明"}}}
  ]}
]
}
